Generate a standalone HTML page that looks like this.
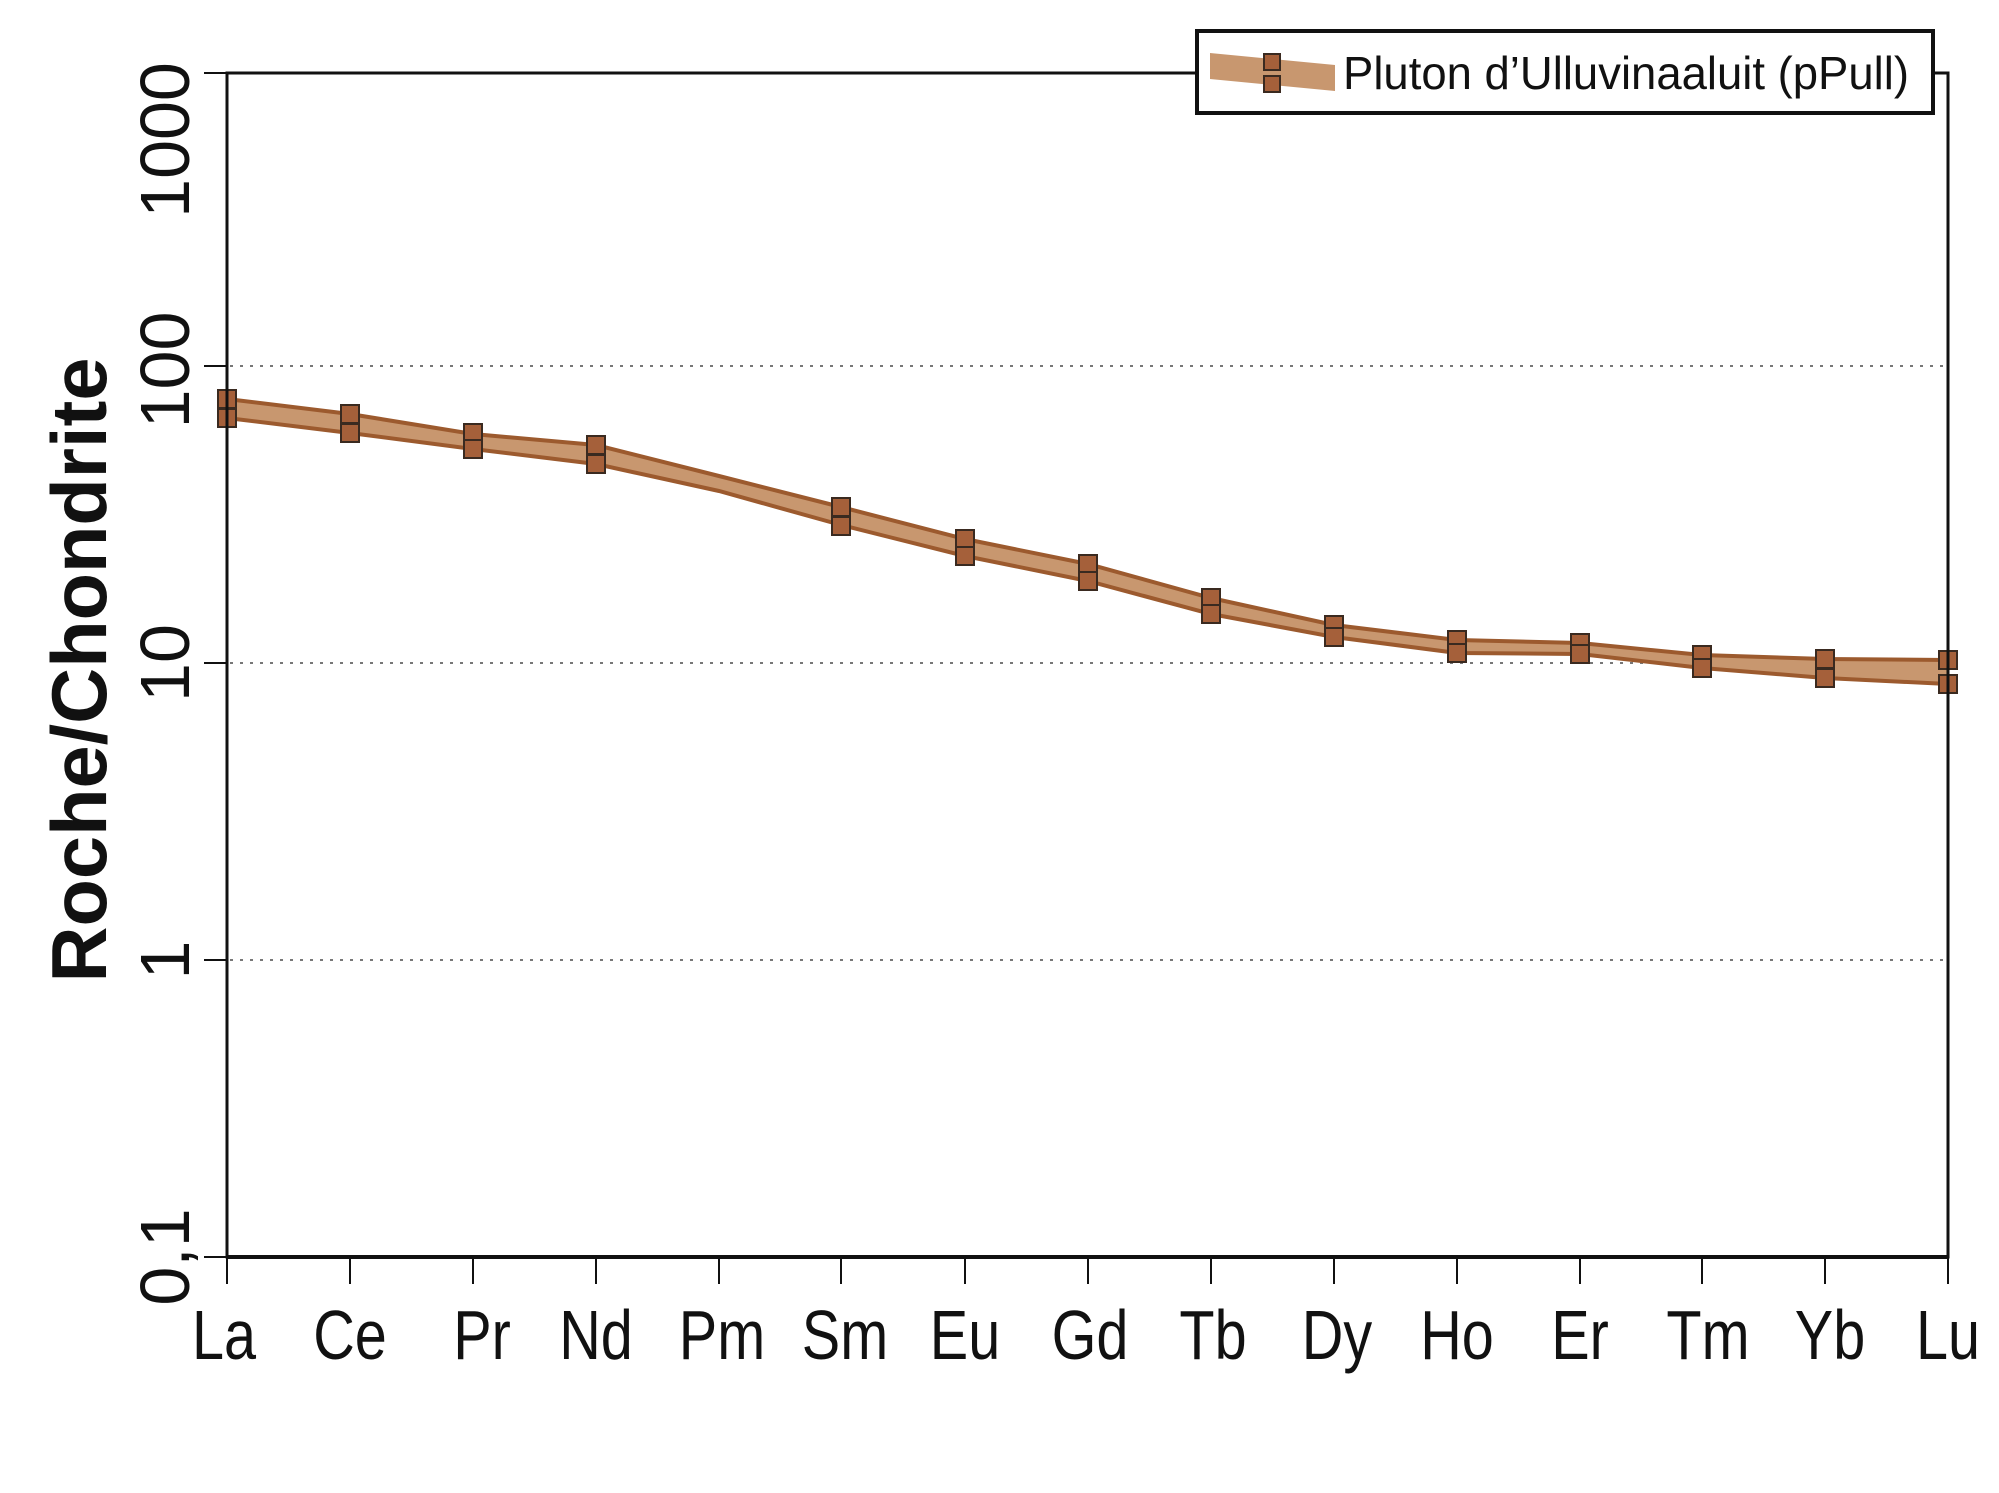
<!DOCTYPE html>
<html><head><meta charset="utf-8"><style>html,body{margin:0;padding:0;background:#fff}svg{display:block}</style></head>
<body>
<svg width="1999" height="1493" viewBox="0 0 1999 1493" xmlns="http://www.w3.org/2000/svg">
<g stroke="#777" stroke-width="2" stroke-dasharray="3,7">
<line x1="230" y1="366" x2="1948" y2="366"/>
<line x1="230" y1="663" x2="1948" y2="663"/>
<line x1="230" y1="960" x2="1948" y2="960"/>
</g>
<polygon fill="#c8976f" points="227,399 350,414 473,434 596,445 719,476 841,507 965,539 1088,564 1211,598 1334,625 1457,640 1580,643 1702,655 1825,659 1948,660 1948,684 1825,678 1702,668 1580,654 1457,653 1334,637 1211,614 1088,581 965,556 841,525 719,491 596,464 473,449 350,433 227,418"/>
<g fill="none" stroke="#9c5a2e" stroke-width="4">
<polyline points="227,399 350,414 473,434 596,445 719,476 841,507 965,539 1088,564 1211,598 1334,625 1457,640 1580,643 1702,655 1825,659 1948,660"/>
<polyline points="227,418 350,433 473,449 596,464 719,491 841,525 965,556 1088,581 1211,614 1334,637 1457,653 1580,654 1702,668 1825,678 1948,684"/>
</g>
<g fill="#a5603a" stroke="#3a2a20" stroke-width="2">
<rect x="218" y="390" width="18" height="18"/><rect x="218" y="409" width="18" height="18"/>
<rect x="341" y="405" width="18" height="18"/><rect x="341" y="424" width="18" height="18"/>
<rect x="464" y="424" width="18" height="18"/><rect x="464" y="440" width="18" height="18"/>
<rect x="587" y="436" width="18" height="18"/><rect x="587" y="455" width="18" height="18"/>
<rect x="832" y="498" width="18" height="18"/><rect x="832" y="517" width="18" height="18"/>
<rect x="956" y="530" width="18" height="18"/><rect x="956" y="547" width="18" height="18"/>
<rect x="1079" y="555" width="18" height="18"/><rect x="1079" y="572" width="18" height="18"/>
<rect x="1202" y="589" width="18" height="18"/><rect x="1202" y="605" width="18" height="18"/>
<rect x="1325" y="616" width="18" height="18"/><rect x="1325" y="628" width="18" height="18"/>
<rect x="1448" y="631" width="18" height="18"/><rect x="1448" y="644" width="18" height="18"/>
<rect x="1571" y="634" width="18" height="18"/><rect x="1571" y="645" width="18" height="18"/>
<rect x="1693" y="646" width="18" height="18"/><rect x="1693" y="659" width="18" height="18"/>
<rect x="1816" y="650" width="18" height="18"/><rect x="1816" y="669" width="18" height="18"/>
<rect x="1939" y="651" width="18" height="18"/><rect x="1939" y="675" width="18" height="18"/>
</g>
<rect x="227" y="73" width="1721" height="1184" fill="none" stroke="#111" stroke-width="3"/>
<line x1="227" y1="1257" x2="1948" y2="1257" stroke="#111" stroke-width="4"/>
<g stroke="#111" stroke-width="2">
<line x1="204" y1="73" x2="227" y2="73"/><line x1="204" y1="366" x2="227" y2="366"/>
<line x1="204" y1="663" x2="227" y2="663"/><line x1="204" y1="960" x2="227" y2="960"/>
<line x1="204" y1="1257" x2="227" y2="1257"/>
<line x1="227" y1="1257" x2="227" y2="1284"/><line x1="350" y1="1257" x2="350" y2="1284"/>
<line x1="473" y1="1257" x2="473" y2="1284"/><line x1="596" y1="1257" x2="596" y2="1284"/>
<line x1="719" y1="1257" x2="719" y2="1284"/><line x1="841" y1="1257" x2="841" y2="1284"/>
<line x1="965" y1="1257" x2="965" y2="1284"/><line x1="1088" y1="1257" x2="1088" y2="1284"/>
<line x1="1211" y1="1257" x2="1211" y2="1284"/><line x1="1334" y1="1257" x2="1334" y2="1284"/>
<line x1="1457" y1="1257" x2="1457" y2="1284"/><line x1="1580" y1="1257" x2="1580" y2="1284"/>
<line x1="1702" y1="1257" x2="1702" y2="1284"/><line x1="1825" y1="1257" x2="1825" y2="1284"/>
<line x1="1948" y1="1257" x2="1948" y2="1284"/>
</g>
<g font-family="Liberation Sans, sans-serif" font-size="70" fill="#111" text-anchor="middle">
<text transform="translate(189,140) rotate(-90)">1000</text>
<text transform="translate(189,370) rotate(-90)">100</text>
<text transform="translate(189,663) rotate(-90)">10</text>
<text transform="translate(189,960) rotate(-90)">1</text>
<text transform="translate(189,1257) rotate(-90)">0,1</text>
</g>
<text transform="translate(106,670) rotate(-90)" font-family="Liberation Sans, sans-serif" font-weight="bold" font-size="78" fill="#111" text-anchor="middle" textLength="625" lengthAdjust="spacingAndGlyphs">Roche/Chondrite</text>
<g font-family="Liberation Sans, sans-serif" font-size="64" fill="#111" text-anchor="middle">
<text transform="translate(224,1359) scale(0.9,1.08)">La</text><text transform="translate(350,1359) scale(0.9,1.08)">Ce</text><text transform="translate(482,1359) scale(0.9,1.08)">Pr</text>
<text transform="translate(596,1359) scale(0.9,1.08)">Nd</text><text transform="translate(722,1359) scale(0.9,1.08)">Pm</text><text transform="translate(845,1359) scale(0.9,1.08)">Sm</text>
<text transform="translate(965,1359) scale(0.9,1.08)">Eu</text><text transform="translate(1090,1359) scale(0.9,1.08)">Gd</text><text transform="translate(1213,1359) scale(0.9,1.08)">Tb</text>
<text transform="translate(1337,1359) scale(0.9,1.08)">Dy</text><text transform="translate(1457,1359) scale(0.9,1.08)">Ho</text><text transform="translate(1580,1359) scale(0.9,1.08)">Er</text>
<text transform="translate(1708,1359) scale(0.9,1.08)">Tm</text><text transform="translate(1830,1359) scale(0.9,1.08)">Yb</text><text transform="translate(1948,1359) scale(0.9,1.08)">Lu</text>
</g>
<rect x="1197" y="31" width="736" height="82" fill="#fff" stroke="#111" stroke-width="4"/>
<polygon points="1210,53 1335,65 1335,91 1210,79" fill="#c8976f"/>
<rect x="1264" y="54" width="16" height="16" fill="#a5603a" stroke="#3a2a20" stroke-width="2"/>
<rect x="1264" y="76" width="16" height="16" fill="#a5603a" stroke="#3a2a20" stroke-width="2"/>
<text x="1343" y="89" font-family="Liberation Sans Narrow, Liberation Sans, sans-serif" font-size="46" fill="#111" textLength="566" lengthAdjust="spacingAndGlyphs">Pluton d’Ulluvinaaluit (pPull)</text>
</svg>
</body></html>
